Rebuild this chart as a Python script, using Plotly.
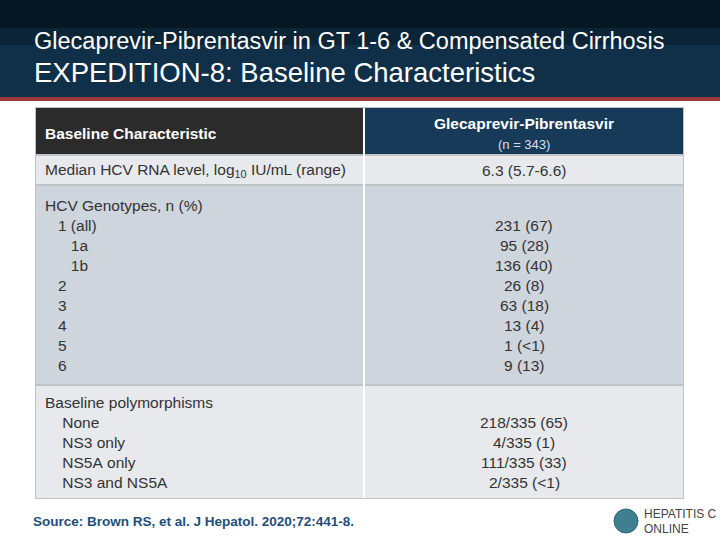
import plotly.graph_objects as go

title1 = "Glecaprevir-Pibrentasvir in GT 1-6 & Compensated Cirrhosis"
title2 = "EXPEDITION-8: Baseline Characteristics"
col_headers = ["Baseline Characteristic", "Glecaprevir-Pibrentasvir", "(n = 343)"]
row1_label = ["Median HCV RNA level, log<sub>10</sub> IU/mL (range)"]
row1_value = ["6.3 (5.7-6.6)"]
row2_labels = ["HCV Genotypes, n (%)", "   1 (all)", "      1a", "      1b", "   2", "   3", "   4", "   5", "   6"]
row2_values = ["", "231 (67)", "95 (28)", "136 (40)", "26 (8)", "63 (18)", "13 (4)", "1 (<1)", "9 (13)"]
row3_labels = ["Baseline polymorphisms", "    None", "    NS3 only", "    NS5A only", "    NS3 and NS5A"]
row3_values = ["", "218/335 (65)", "4/335 (1)", "111/335 (33)", "2/335 (<1)"]
source = "Source: Brown RS, et al. J Hepatol. 2020;72:441-8."
logo = ["HEPATITIS C", "ONLINE"]

F = "Liberation Sans, Arial, sans-serif"
fig = go.Figure()
shapes = []
ann = []

def rect(x0, y0, x1, y1, color):
    shapes.append(dict(type="rect", x0=x0, y0=y0, x1=x1, y1=y1, fillcolor=color,
                       line=dict(width=0), layer="below"))

def text(x, y, s, size=15.5, color="#333", anchor="left", bold=False):
    if bold:
        s = "<b>" + s + "</b>"
    ann.append(dict(x=x, y=y, text=s, showarrow=False, xanchor=anchor, yanchor="middle",
                    font=dict(family=F, size=size, color=color)))

# banner
rect(0, 0, 720, 98, "#0f3048")
rect(0, 0, 720, 28, "#071825")
rect(0, 28, 720, 45, "#0b2436")
rect(0, 97, 720, 101, "#9a3a36")
text(32, 41, title1, size=23.5, color="white")
text(32, 72, title2, size=27.5, color="white")

# table
rect(35, 107, 684, 499, "#bfc3c8")
rect(36, 108, 363, 154, "#2b2b2b")
rect(365, 108, 683, 154, "#163a58")
rect(36, 156, 363, 184, "#e8e9ec"); rect(365, 156, 683, 184, "#e8e9ec")
rect(36, 186, 363, 384, "#cfd5dd"); rect(365, 186, 683, 384, "#cfd5dd")
rect(36, 386, 363, 498, "#e8e9ec"); rect(365, 386, 683, 498, "#e8e9ec")
shapes.append(dict(type="line", x0=364, x1=364, y0=108, y1=498, line=dict(color="white", width=2)))

text(43, 133, col_headers[0], size=15.5, color="white", bold=True)
text(524, 123, col_headers[1], size=15.5, color="white", anchor="center", bold=True)
text(524, 144, col_headers[2], size=13, color="#dde", anchor="center")

text(43, 170, row1_label[0])
text(524, 170, row1_value[0], anchor="center")

for i, (l, v) in enumerate(zip(row2_labels, row2_values)):
    y = 205 + 20 * i
    text(43, y, l.replace(" ", "&nbsp;"))
    if v:
        text(524, y, v.replace("<", "&lt;"), anchor="center")

for i, (l, v) in enumerate(zip(row3_labels, row3_values)):
    y = 402 + 20 * i
    text(43, y, l.replace(" ", "&nbsp;"))
    if v:
        text(524, y, v.replace("<", "&lt;"), anchor="center")

text(31, 521, source, size=13.5, color="#1f4e79", bold=True)

# logo
shapes.append(dict(type="circle", x0=614, y0=509, x1=638, y1=533, fillcolor="#3f7f8f",
                   line=dict(color="#2d6676", width=1)))
text(642, 514, logo[0], size=12, color="#444")
text(642, 529, logo[1], size=12, color="#444")

fig.update_layout(width=720, height=540, margin=dict(l=0, r=0, t=0, b=0),
                  plot_bgcolor="white", paper_bgcolor="white",
                  shapes=shapes, annotations=ann, showlegend=False,
                  xaxis=dict(range=[0, 720], visible=False, fixedrange=True),
                  yaxis=dict(range=[540, 0], visible=False, fixedrange=True))
fig.write_html("out.html", config={"displayModeBar": False},
               post_script="document.body.style.margin='0';document.body.style.overflow='hidden';")
